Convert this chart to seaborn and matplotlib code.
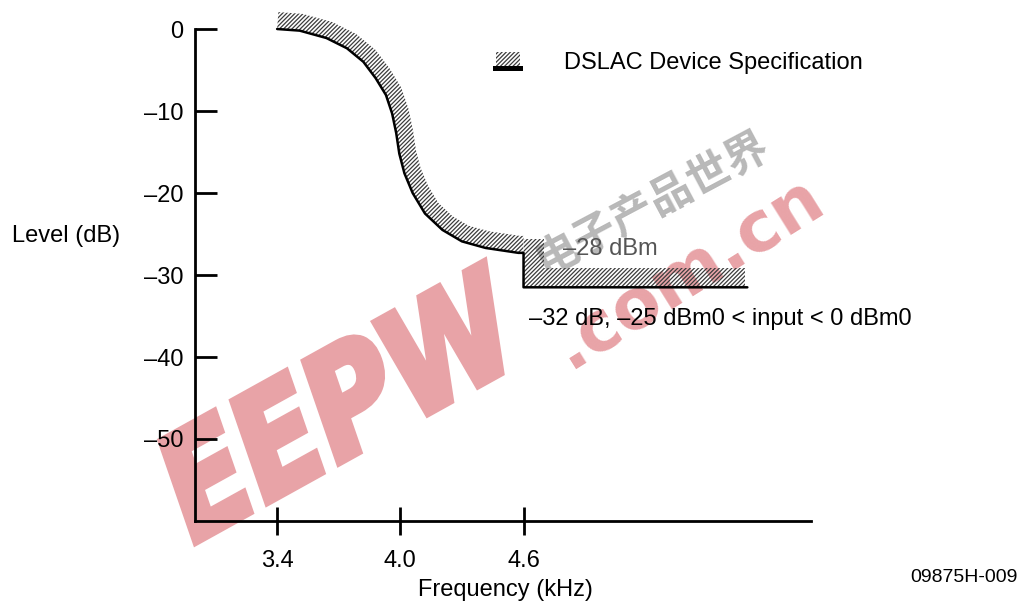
import numpy as np
import pandas as pd
import seaborn as sns
import matplotlib
matplotlib.use("Agg")
import matplotlib.pyplot as plt
from matplotlib.patches import Polygon, Rectangle, PathPatch
from matplotlib.legend_handler import HandlerBase
from matplotlib.textpath import TextPath
from matplotlib.font_manager import FontProperties
from matplotlib.transforms import Affine2D, IdentityTransform

# Spec mask (kHz, dB)
freq_khz = [3.40, 3.51, 3.64, 3.74, 3.82, 3.88, 3.93, 3.96, 3.98, 3.995,
            4.02, 4.06, 4.12, 4.205, 4.30, 4.415, 4.575, 4.60]
level_db = [0.0, -0.2, -1.1, -2.35, -4.0, -6.0, -8.05, -10.3, -12.7, -15.2,
            -17.6, -20.0, -22.5, -24.5, -25.9, -26.7, -27.3, -27.3]
step_freq = [4.60, 4.60, 5.69]
step_level = [-27.3, -31.5, -31.5]

x_ticks = [3.4, 4.0, 4.6]
x_tick_labels = ["3.4", "4.0", "4.6"]
y_ticks = [0, -10, -20, -30, -40, -50]
y_tick_labels = ["0", "\u201310", "\u201320", "\u201330", "\u201340", "\u201350"]

label_28 = "\u201328 dBm"
label_32 = "\u201332 dB, \u201325 dBm0 < input < 0 dBm0"
legend_label = "DSLAC Device Specification"

sns.set_theme(style="white")
plt.rcParams["font.family"] = ["Liberation Sans", "Noto Sans CJK SC", "DejaVu Sans"]
plt.rcParams["text.color"] = "black"
plt.rcParams["hatch.linewidth"] = 0.9

W, H = 1023, 605
fig = plt.figure(figsize=(W / 100, H / 100), dpi=100)
ax = fig.add_axes([195 / W, (H - 521) / H, (811 - 195) / W, (521 - 29) / H])
ax.patch.set_alpha(0)
ax.set_xlim(3.0, 6.0)
ax.set_ylim(-60, 0)

mask = pd.DataFrame({"freq": freq_khz + step_freq[1:],
                     "level": level_db + step_level[1:]})

HATCH = dict(facecolor="none", edgecolor="#3c3c3c", hatch="////////", lw=0,
             clip_on=False, zorder=2)

# hatched band above the curved part, offset along the normal in pixels
pts = ax.transData.transform(np.column_stack([freq_khz, level_db]))
tang = np.gradient(pts, axis=0)
tang /= np.linalg.norm(tang, axis=1)[:, None]
normal = np.column_stack([-tang[:, 1], tang[:, 0]])
band = 17
top = pts + band * normal
curve_band = ax.transData.inverted().transform(np.vstack([pts, top[::-1]]))
ax.add_patch(Polygon(curve_band, closed=True, **HATCH))

# hatched band along the step
sp = ax.transData.transform(np.column_stack([step_freq, step_level]))
x46, y_hi = sp[0]
y_lo = sp[1][1]
x_end = sp[2][0]
step_poly = np.array([[x46, y_hi + 14], [x46 + 20, y_hi + 14],
                      [x46 + 20, y_lo + 19], [x_end - 2, y_lo + 19],
                      [x_end - 2, y_lo], [x46, y_lo]])
ax.add_patch(Polygon(ax.transData.inverted().transform(step_poly), closed=True, **HATCH))

sns.lineplot(data=mask, x="freq", y="level", sort=False, estimator=None,
             color="black", lw=1.8, ax=ax, zorder=3, clip_on=False)

sns.despine(ax=ax)
for side in ["left", "bottom"]:
    ax.spines[side].set_linewidth(2)
    ax.spines[side].set_color("black")
ax.set_xticks(x_ticks, x_tick_labels)
ax.set_yticks(y_ticks, y_tick_labels)
ax.tick_params(axis="y", direction="in", length=16, width=2, pad=8.5,
               labelsize=17, colors="black", left=True)
ax.tick_params(axis="x", direction="inout", length=20, width=2, pad=11,
               labelsize=17, colors="black", bottom=True)
ax.set_xlabel("")
ax.set_ylabel("")

fig.text(12 / W, 1 - 236 / H, "Level (dB)", fontsize=17, ha="left", va="center")
fig.text(505 / W, 1 - 590 / H, "Frequency (kHz)", fontsize=17, ha="center", va="center")
fig.text(1018 / W, 1 - 577 / H, "09875H-009", fontsize=14, ha="right", va="center")

ax.text(4.79, -26.8, label_28, fontsize=17, color="#555555", ha="left", va="center", zorder=4)
ax.text(4.625, -35.4, label_32, fontsize=17, color="black", ha="left", va="center",
        clip_on=False, zorder=4)


class SpecKey(HandlerBase):
    def create_artists(self, legend, orig_handle, xdescent, ydescent,
                       width, height, fontsize, trans):
        x0, y0 = -xdescent, -ydescent
        bar = Rectangle((x0, y0), width, 0.24 * height, facecolor="black",
                        lw=0, transform=trans)
        box = Rectangle((x0 + 0.1 * width, y0 + 0.26 * height), 0.8 * width,
                        0.74 * height, facecolor="white", edgecolor="#3c3c3c",
                        hatch="////////", lw=0, transform=trans)
        return [box, bar]


key = Rectangle((0, 0), 1, 1)
leg = ax.legend([key], [legend_label], handler_map={Rectangle: SpecKey()},
                loc="center left", bbox_to_anchor=(493 / W, 1 - 63 / H),
                bbox_transform=fig.transFigure, frameon=False, fontsize=17,
                handlelength=1.27, handleheight=0.9, handletextpad=1.75,
                borderpad=0, borderaxespad=0)
for t in leg.get_texts():
    t.set_color("black")

# EEPW watermark, kept behind the chart lines
pink = "#e8a3a7"
bold = FontProperties(family="DejaVu Sans", weight="bold")
tp = TextPath((0, 0), "EEPW", size=100, prop=bold)
ext = tp.get_extents()
wm = (Affine2D().translate(-ext.x0 - ext.width / 2, -ext.y0 - ext.height / 2)
      .scale(1.2, 1.45).skew_deg(10, 0).rotate_deg(29).translate(340, H - 402))
fig.patches.append(PathPatch(wm.transform_path(tp), facecolor=pink, edgecolor=pink,
                             lw=5, transform=IdentityTransform(),
                             figure=fig, zorder=-1))
fig.text(688 / W, 1 - 272 / H, ".com.cn", fontsize=50, fontweight="bold",
         color=pink, rotation=32, ha="center", va="center",
         family="DejaVu Sans", zorder=-1)
fig.text(652 / W, 1 - 203 / H, "电子产品世界", fontsize=31, fontweight="bold",
         color="#9a9a9a", rotation=28, ha="center", va="center", alpha=0.7,
         family=["Noto Sans CJK SC"], zorder=-1)

fig.savefig("out.png", dpi=100)
